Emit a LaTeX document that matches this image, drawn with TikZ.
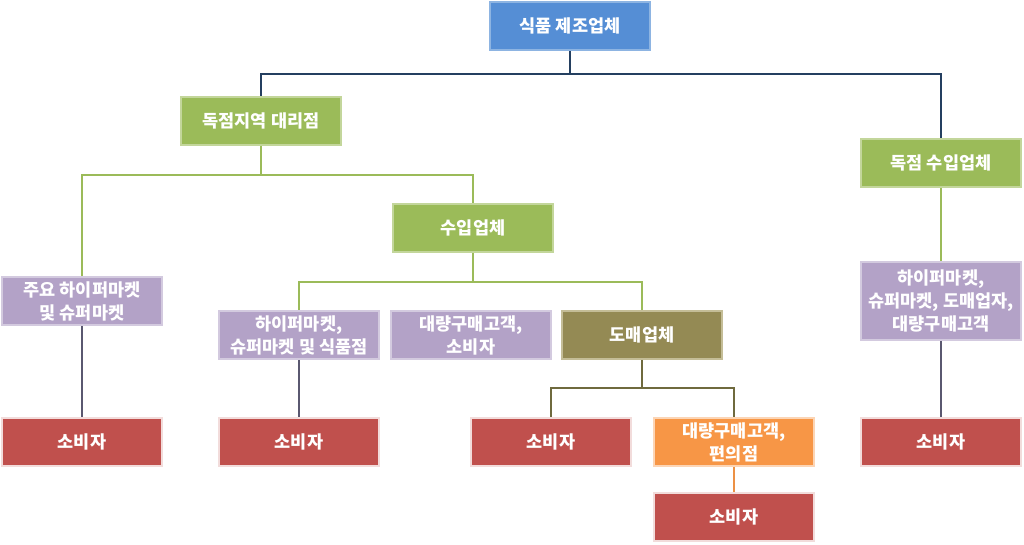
\documentclass[tikz,border=0pt]{standalone}
\usepackage{fontspec}
\newfontfamily\kofont{Noto Sans CJK KR}
\usetikzlibrary{positioning,calc}
\definecolor{cblue}{HTML}{558ED5}
\definecolor{cbluel}{HTML}{8DB4E2}
\definecolor{cgreen}{HTML}{9BBB59}
\definecolor{cgreenl}{HTML}{C3D69B}
\definecolor{cpurple}{HTML}{B3A2C7}
\definecolor{cpurplel}{HTML}{D3CADF}
\definecolor{colive}{HTML}{948A54}
\definecolor{colivel}{HTML}{C4BD97}
\definecolor{cred}{HTML}{C0504D}
\definecolor{credl}{HTML}{F2DCDB}
\definecolor{corange}{HTML}{F79646}
\definecolor{corangel}{HTML}{FCD5B5}
\definecolor{cnavy}{HTML}{243F60}
\definecolor{cgray}{HTML}{5A5870}
\definecolor{colivedk}{HTML}{6F6A3E}
\begin{document}
\begin{tikzpicture}[x=1pt,y=-1pt,
  nbase/.style={draw, line width=1.5pt, minimum width=160pt, minimum height=48pt,
    inner sep=2pt, align=center, text=white,
    font=\kofont\bfseries\fontsize{17.5}{23}\selectfont},
  nblue/.style={nbase, fill=cblue, draw=cbluel},
  ngreen/.style={nbase, fill=cgreen, draw=cgreenl},
  npurple/.style={nbase, fill=cpurple, draw=cpurplel},
  nolive/.style={nbase, fill=colive, draw=colivel},
  nred/.style={nbase, fill=cred, draw=credl},
  norange/.style={nbase, fill=corange, draw=corangel},
  lnavy/.style={draw=cnavy, line width=2pt},
  lgreen/.style={draw=cgreen, line width=1.6pt},
  lgray/.style={draw=cgray, line width=1.6pt},
  lolive/.style={draw=colivedk, line width=1.8pt},
  lorange/.style={draw=corange!80!brown, line width=1.6pt}
 ]
  \useasboundingbox (0,0) rectangle (1024,544);

  \node[nblue] (maker) at (570,26) {식품 제조업체};
  \node[ngreen] (agent) at (261,121) {독점지역 대리점};
  \node[ngreen] (mimp) at (941,163) {독점 수입업체};
  \node[ngreen] (imp) at (473,228) {수입업체};

  \node[npurple] (hyper) at (82,301) {주요 하이퍼마켓\\및 슈퍼마켓};
  \node[npurple] (super) at (299,335) {하이퍼마켓,\\슈퍼마켓 및 식품점};
  \node[npurple] (bulk) at (471,335) {대량구매고객,\\소비자};
  \node[nolive] (whole) at (642,335) {도매업체};
  \node[npurple, minimum height=78pt] (retail) at (941,301)
    {하이퍼마켓,\\슈퍼마켓, 도매업자,\\대량구매고객};
  \node[norange] (conv) at (734,442) {대량구매고객,\\편의점};

  % consumers
  \foreach \n/\x in {c1/82, c2/299, c3/551, c4/941}
    \node[nred] (\n) at (\x,442) {소비자};
  \node[nred] (c5) at (734,517) {소비자};

  % connectors
  \coordinate (j1) at (570,74);
  \draw[lnavy] (maker.south) -- (j1) -| (agent.north);
  \draw[lnavy] (j1) -| (mimp.north);

  \coordinate (j2) at (261,175);
  \draw[lgreen] (agent.south) -- (j2) -| (hyper.north);
  \draw[lgreen] (j2) -| (imp.north);
  \draw[lgreen] (mimp.south) -- (retail.north);

  \coordinate (j3) at (473,282);
  \draw[lgreen] (imp.south) -- (j3) -| (super.north);
  \draw[lgreen] (j3) -| (whole.north);

  \coordinate (j4) at (642,388);
  \draw[lolive] (whole.south) -- (j4) -| (c3.north);
  \draw[lolive] (j4) -| (conv.north);

  \draw[lgray] (hyper.south) -- (c1.north);
  \draw[lgray] (super.south) -- (c2.north);
  \draw[lgray] (retail.south) -- (c4.north);
  \draw[lorange] (conv.south) -- (c5.north);
\end{tikzpicture}
\end{document}
